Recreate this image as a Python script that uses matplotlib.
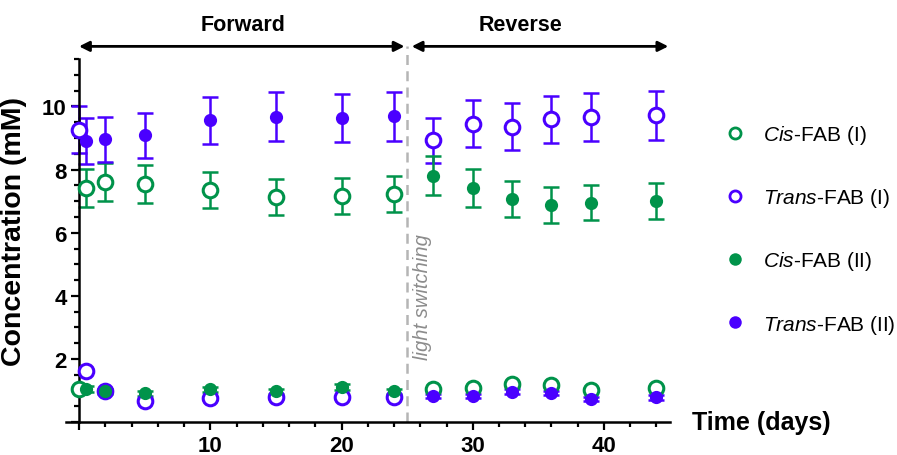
import numpy as np
import matplotlib
matplotlib.use('Agg')
import matplotlib.pyplot as plt
from matplotlib.lines import Line2D
from matplotlib.ticker import MultipleLocator

plt.rcParams['font.family'] = ['Liberation Sans', 'DejaVu Sans']
plt.rcParams['mathtext.fontset'] = 'custom'
plt.rcParams['mathtext.rm'] = 'Liberation Sans'
plt.rcParams['mathtext.it'] = 'Liberation Sans:italic'

# data (time in days, concentration in mM)
cis_I_t = [0, 0.5, 2, 5, 10, 15, 20, 24, 27, 30, 33, 36, 39, 44]
cis_I = [1.05, 7.42, 7.62, 7.55, 7.35, 7.13, 7.16, 7.22, 1.05, 1.10, 1.21, 1.18, 1.03, 1.10]
cis_I_err = [0.06, 0.6, 0.6, 0.6, 0.58, 0.57, 0.57, 0.57, 0.05, 0.05, 0.05, 0.05, 0.05, 0.05]

trans_I_t = [0, 0.5, 2, 5, 10, 15, 20, 24, 27, 30, 33, 36, 39, 44]
trans_I = [9.26, 1.63, 0.98, 0.68, 0.76, 0.79, 0.79, 0.81, 8.93, 9.45, 9.36, 9.59, 9.66, 9.72]
trans_I_err = [0.74, 0.05, 0.06, 0.05, 0.05, 0.05, 0.05, 0.05, 0.71, 0.75, 0.75, 0.75, 0.77, 0.78]

cis_II_t = [0.5, 2, 5, 10, 15, 20, 24, 27, 30, 33, 36, 39, 44]
cis_II = [1.06, 0.98, 0.92, 1.05, 0.98, 1.12, 0.98, 7.80, 7.43, 7.06, 6.88, 6.95, 7.01]
cis_II_err = [0.1, 0.07, 0.08, 0.08, 0.07, 0.1, 0.07, 0.62, 0.6, 0.57, 0.56, 0.55, 0.56]

trans_II_t = [0.5, 2, 5, 10, 15, 20, 24, 27, 30, 33, 36, 39, 44]
trans_II = [8.90, 8.96, 9.08, 9.56, 9.67, 9.62, 9.69, 0.84, 0.84, 0.97, 0.92, 0.74, 0.79]
trans_II_err = [0.72, 0.71, 0.71, 0.75, 0.78, 0.76, 0.78, 0.07, 0.07, 0.07, 0.07, 0.07, 0.07]

labels = [r'$\mathit{Cis}$-FAB (I)', r'$\mathit{Trans}$-FAB (I)',
          r'$\mathit{Cis}$-FAB (II)', r'$\mathit{Trans}$-FAB (II)']

green = '#00934a'
purple = '#4a00ff'

fig = plt.figure(figsize=(8.97, 4.56), dpi=100)
ax = fig.add_axes([0.0735, 0.0718, 0.673, 0.7966])

# error bars first, markers on top
eb = dict(fmt='none', capsize=6, capthick=1.8, elinewidth=1.8, zorder=2)
ax.errorbar(cis_I_t, cis_I, yerr=cis_I_err, ecolor=green, **eb)
ax.errorbar(trans_I_t, trans_I, yerr=trans_I_err, ecolor=purple, **eb)
ax.errorbar(cis_II_t, cis_II, yerr=cis_II_err, ecolor=green, **eb)
ax.errorbar(trans_II_t, trans_II, yerr=trans_II_err, ecolor=purple, **eb)

ax.plot(cis_I_t, cis_I, ls='none', marker='o', ms=10.5, mfc='white', mec=green,
        mew=2.2, zorder=3)
ax.plot(trans_I_t, trans_I, ls='none', marker='o', ms=10.5, mfc='white', mec=purple,
        mew=2.2, zorder=3)
ax.plot(cis_II_t, cis_II, ls='none', marker='o', ms=9.5, color=green, mew=0, zorder=4)
ax.plot(trans_II_t, trans_II, ls='none', marker='o', ms=9.5, color=purple, mew=0, zorder=4)

# axes in prism style
ax.set_xlim(-1, 45)
ax.set_ylim(0, 11.5)
ax.spines['top'].set_visible(False)
ax.spines['right'].set_visible(False)
ax.spines['left'].set_position(('data', 0))
ax.spines['bottom'].set_position(('data', 0))
for s in ['left', 'bottom']:
    ax.spines[s].set_linewidth(1.8)
ax.xaxis.set_major_locator(MultipleLocator(10))
ax.xaxis.set_minor_locator(MultipleLocator(2))
ax.yaxis.set_major_locator(MultipleLocator(2))
ax.yaxis.set_minor_locator(MultipleLocator(0.5))
ax.tick_params(which='major', length=6, width=1.6, labelsize=16, pad=3)
ax.tick_params(which='minor', length=3.5, width=1.6)
ax.set_xticks([0, 10, 20, 30, 40])
ax.set_xticklabels(['', '10', '20', '30', '40'], fontweight='bold')
ax.set_yticks([0, 2, 4, 6, 8, 10])
ax.set_yticklabels(['', '2', '4', '6', '8', '10'], fontweight='bold')
ax.set_ylabel('Concentration (mM)', fontsize=20.5, fontweight='bold')
ax.yaxis.set_label_coords(-0.064, 0.527)
ax.text(46.7, 0, 'Time (days)', fontsize=18, fontweight='bold', va='center',
        ha='left', clip_on=False)

# light switching line and phase arrows
ax.plot([25, 25], [0, 11.9], color='#b5b5b5', lw=1.8, ls=(0, (4, 2.5)),
        clip_on=False, zorder=1)
ax.text(26.2, 4.0, 'light switching', rotation=90, style='italic', color='#8c8c8c',
        fontsize=14.5, ha='center', va='center')
ax.annotate('', xy=(0, 11.9), xytext=(24.8, 11.9), annotation_clip=False,
            arrowprops=dict(arrowstyle='<|-|>', color='black', lw=2,
                            mutation_scale=15, shrinkA=0, shrinkB=0))
ax.annotate('', xy=(25.35, 11.9), xytext=(44.9, 11.9), annotation_clip=False,
            arrowprops=dict(arrowstyle='<|-|>', color='black', lw=2,
                            mutation_scale=15, shrinkA=0, shrinkB=0))
ax.text(12.5, 12.6, 'Forward', fontsize=15.5, fontweight='bold', ha='center',
        va='center', clip_on=False)
ax.text(33.6, 12.6, 'Reverse', fontsize=15.5, fontweight='bold', ha='center',
        va='center', clip_on=False)

# legend
handles = [Line2D([], [], ls='none', marker='o', ms=8, mfc='white', mec=green, mew=2),
           Line2D([], [], ls='none', marker='o', ms=8, mfc='white', mec=purple, mew=2),
           Line2D([], [], ls='none', marker='o', ms=9, color=green, mew=0),
           Line2D([], [], ls='none', marker='o', ms=9, color=purple, mew=0)]
fig.legend(handles, labels, loc='upper left', bbox_to_anchor=(724.6 / 897, 1 - 124 / 456),
           frameon=False, fontsize=15, handlelength=1.0, handletextpad=0.85,
           labelspacing=1.93, borderpad=0, borderaxespad=0)

plt.savefig('out.png', dpi=100)
